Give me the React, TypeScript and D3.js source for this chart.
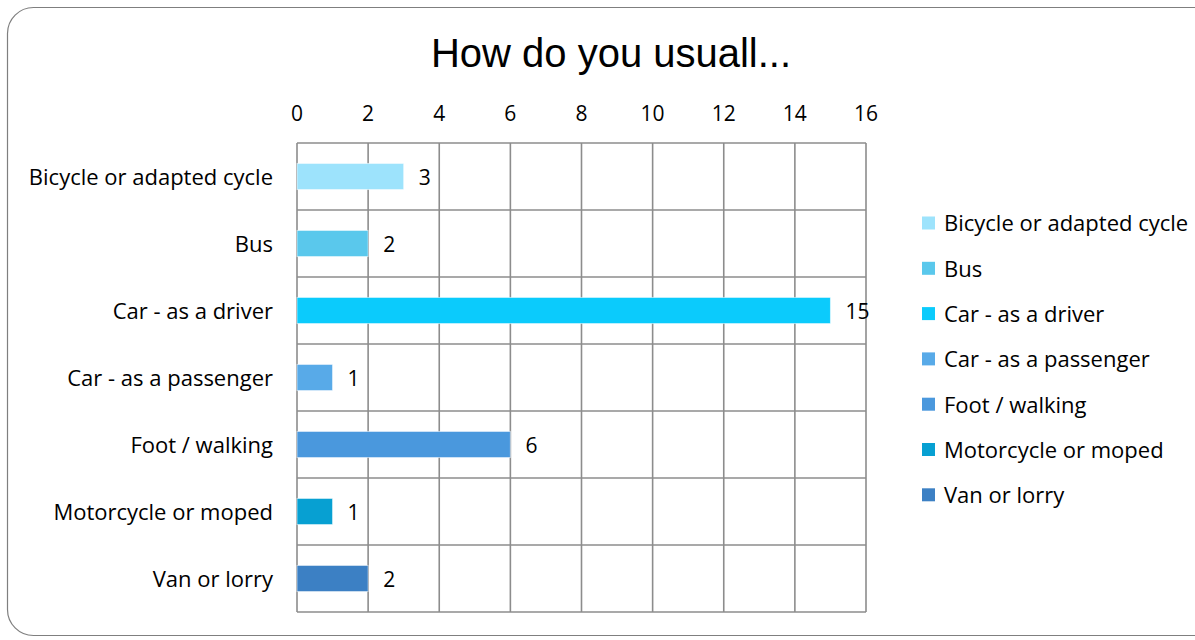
import React from "react";
import * as d3 from "d3";

const categories = [
  "Bicycle or adapted cycle",
  "Bus",
  "Car - as a driver",
  "Car - as a passenger",
  "Foot / walking",
  "Motorcycle or moped",
  "Van or lorry",
];
const counts = [3, 2, 15, 1, 6, 1, 2];
const barColors = ["#9de3fc", "#5ac8ec", "#0bcbfc", "#58aae8", "#4a98dd", "#07a0d2", "#3c80c4"];
const xTicks = [0, 2, 4, 6, 8, 10, 12, 14, 16];
const title = "How do you usuall...";

const W = 1195;
const H = 640;
const plot = { left: 297, right: 866, top: 143, bottom: 612 };
const labelFont = "'Open Sans', 'Noto Sans', sans-serif";
const gridColor = "#8c8c8c";

export default function App() {
  const x = d3.scaleLinear().domain([0, 16]).range([plot.left, plot.right]);
  const y = d3.scaleBand<string>().domain(categories).range([plot.top, plot.bottom]).padding(0);
  const step = y.step();
  const barH = step * 0.39;

  return (
    <svg width={W} height={H} style={{ position: "absolute", left: 0, top: 0, background: "#fff" }}>
      <rect x={7.5} y={7.5} width={1215} height={628} rx={26} ry={26} fill="#fff" stroke="#7f7f7f" strokeWidth={1.2} />
      <text x={611} y={67} textAnchor="middle" fontFamily="'Liberation Sans', Arial, sans-serif" fontSize={40} fill="#000">
        {title}
      </text>

      {/* vertical grid lines */}
      {xTicks.map((t) => (
        <line key={"gx" + t} x1={x(t)} x2={x(t)} y1={plot.top} y2={plot.bottom} stroke={gridColor} strokeWidth={1.6} />
      ))}
      {/* horizontal cell boundaries */}
      {categories.map((c) => (
        <line key={"gy" + c} x1={plot.left} x2={plot.right} y1={y(c)!} y2={y(c)!} stroke={gridColor} strokeWidth={1.6} />
      ))}
      <line x1={plot.left} x2={plot.right} y1={plot.bottom} y2={plot.bottom} stroke={gridColor} strokeWidth={1.6} />

      {/* top axis tick labels */}
      {xTicks.map((t) => (
        <text key={"tx" + t} x={x(t)} y={121} textAnchor="middle" fontFamily={labelFont} fontSize={21} fill="#000">
          {t}
        </text>
      ))}

      {/* bars */}
      {categories.map((c, i) => {
        const cy = y(c)! + step / 2;
        return (
          <g key={"b" + c}>
            <rect
              x={x(0)}
              y={cy - barH / 2}
              width={x(counts[i]) - x(0)}
              height={barH}
              fill={barColors[i]}
              stroke="rgba(255,255,255,0.55)"
              strokeWidth={1}
            />
            <text x={x(counts[i]) + 15} y={cy} dy="0.4em" fontFamily={labelFont} fontSize={21} fill="#000">
              {counts[i]}
            </text>
            <text x={273} y={cy} dy="0.4em" textAnchor="end" fontFamily={labelFont} fontSize={22} fill="#000">
              {c}
            </text>
          </g>
        );
      })}

      {/* legend */}
      {categories.map((c, i) => {
        const cy = 223 + i * 45.3;
        return (
          <g key={"l" + c}>
            <rect x={922} y={cy - 6.5} width={13} height={13} fill={barColors[i]} />
            <text x={944} y={cy} dy="0.38em" fontFamily={labelFont} fontSize={22} fill="#000">
              {c}
            </text>
          </g>
        );
      })}
    </svg>
  );
}
